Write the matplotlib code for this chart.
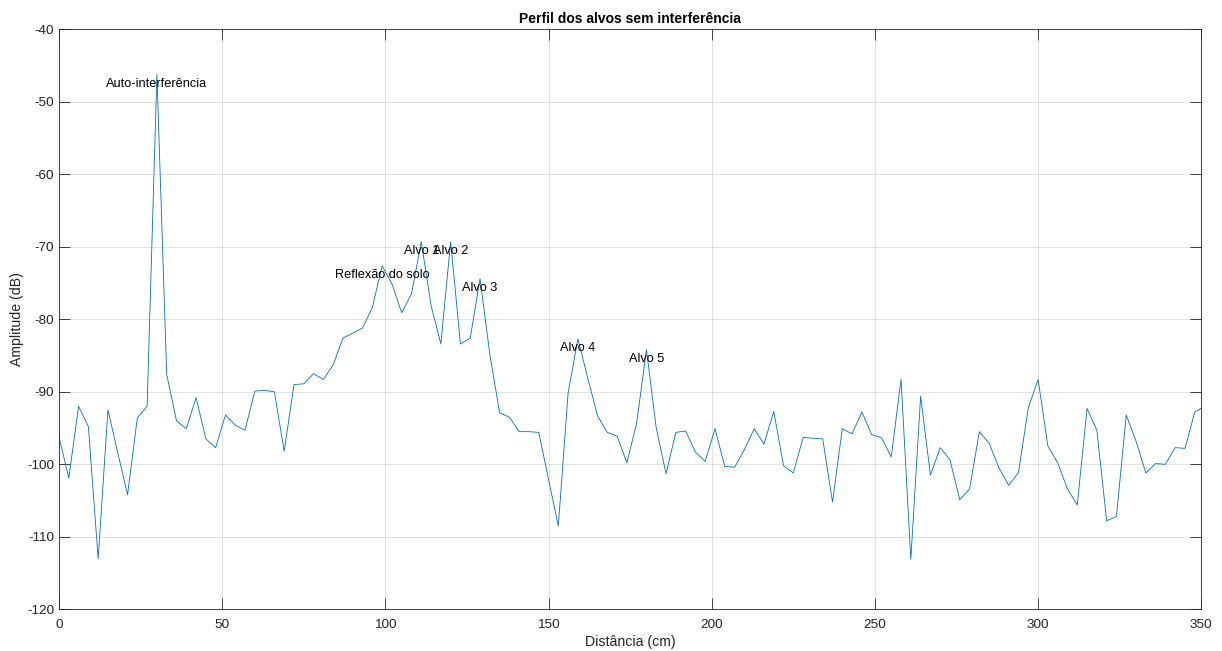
import numpy as np
import matplotlib
matplotlib.use("Agg")
import matplotlib.pyplot as plt

plt.rcParams['font.family'] = ['Liberation Sans', 'DejaVu Sans']
plt.rcParams['axes.unicode_minus'] = False

# Range profile sampled every 3 cm
step_cm = 3
amplitude_db = [
    -96.2, -101.9, -92.0, -94.8, -113.0, -92.5, -98.4, -104.2, -93.6, -92.0,
    -46.2, -87.6, -94.0, -95.1, -90.8, -96.5, -97.7, -93.2, -94.6, -95.3,
    -89.9, -89.8, -90.0, -98.2, -89.0, -88.9, -87.5, -88.3, -86.3, -82.6,
    -81.9, -81.2, -78.4, -72.6, -75.1, -79.1, -76.5, -69.3, -78.1, -83.4,
    -69.3, -83.4, -82.6, -74.4, -84.8, -92.9, -93.5, -95.5, -95.5, -95.6,
    -102.1, -108.5, -90.1, -82.7, -88.1, -93.3, -95.6, -96.1, -99.8, -94.3,
    -84.2, -95.0, -101.3, -95.6, -95.4, -98.3, -99.6, -95.1, -100.3, -100.4,
    -98.0, -95.1, -97.2, -92.7, -100.2, -101.2, -96.3, -96.4, -96.5, -105.2,
    -95.1, -95.8, -92.8, -95.9, -96.3, -99.0, -88.3, -113.1, -90.6, -101.5,
    -97.7, -99.4, -104.9, -103.4, -95.5, -97.1, -100.5, -102.9, -101.1, -92.2,
    -88.3, -97.5, -99.8, -103.4, -105.6, -92.3, -95.3, -107.8, -107.2, -93.2,
    -96.8, -101.2, -99.9, -100.0, -97.7, -97.8, -92.8, -92.0,
]
distance_cm = np.arange(len(amplitude_db)) * step_cm

# Labelled peaks: (text, distance in cm)
peak_labels = ["Auto-interferência", "Reflexão do solo", "Alvo 1", "Alvo 2",
               "Alvo 3", "Alvo 4", "Alvo 5"]
peak_distances = [30, 99, 111, 120, 129, 159, 180]

x_ticks = [0, 50, 100, 150, 200, 250, 300, 350]
y_ticks = [-120, -110, -100, -90, -80, -70, -60, -50, -40]

axis_color = '#262626'

fig = plt.figure(figsize=(12.22, 6.51), dpi=100)
ax = fig.add_axes([59 / 1222, 41.7 / 651, 1142.3 / 1222, 580 / 651])

ax.plot(distance_cm, amplitude_db, color='#0072BD', linewidth=0.6)

for label, d in zip(peak_labels, peak_distances):
    idx = list(distance_cm).index(d)
    ax.annotate(label, xy=(d, amplitude_db[idx]), xytext=(0, -2.5),
                textcoords='offset points', ha='center', va='top',
                fontsize=9.2, color='black')

ax.set_xlim(0, 350)
ax.set_ylim(-120, -40)
ax.set_xticks(x_ticks)
ax.set_yticks(y_ticks)

ax.grid(True, color=axis_color, alpha=0.15, linewidth=0.6)
ax.set_axisbelow(True)

for s in ax.spines.values():
    s.set_color(axis_color)
    s.set_linewidth(0.6)

ax.tick_params(axis='both', direction='in', length=8.2, width=0.6,
               color=axis_color, labelcolor=axis_color, labelsize=9.7,
               top=True, right=True)
ax.tick_params(axis='x', pad=7)
ax.tick_params(axis='y', pad=3.6)

ax.set_title("Perfil dos alvos sem interferência", fontsize=10,
             fontweight='bold', pad=4.5)
ax.set_xlabel("Distância (cm)", fontsize=10.2, color=axis_color, va='center')
ax.set_ylabel("Amplitude (dB)", fontsize=10.2, color=axis_color, va='center')
ax.xaxis.set_label_coords(0.5, (609.3 - 642) / 580)
ax.yaxis.set_label_coords((17 - 59) / 1142.3, 0.5)

fig.savefig("out.png", dpi=100)
